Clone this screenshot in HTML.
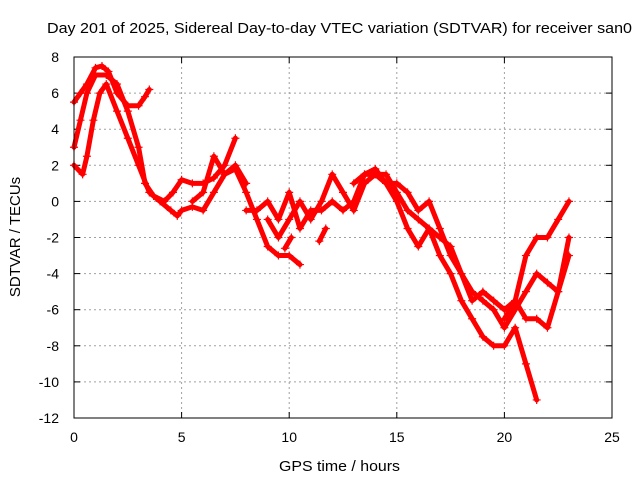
<!DOCTYPE html>
<html><head><meta charset="utf-8"><style>
body{margin:0;background:#fff}
svg{display:block;font-family:"Liberation Sans",sans-serif;font-size:14px}
</style></head><body>
<svg id="c" width="640" height="480">
<text x="47" y="33" textLength="585" lengthAdjust="spacingAndGlyphs" style="font-size:15px">Day 201 of 2025, Sidereal Day-to-day VTEC variation (SDTVAR) for receiver san0</text>
<text x="279" y="471" textLength="121" lengthAdjust="spacingAndGlyphs" style="font-size:15px">GPS time / hours</text>
<text transform="translate(20,237) rotate(-90)" text-anchor="middle" style="font-size:15px">SDTVAR / TECUs</text>
<g id="grid"></g><g id="marks"></g>
<rect x="74" y="57" width="538" height="361" fill="none" stroke="#000"/>
</svg>
<script>
const xTicks=[0,5,10,15,20,25];
const yTicks=[8,6,4,2,0,-2,-4,-6,-8,-10,-12];
const track1=[[0,5.5],[0.3,6],[0.6,6.5],[1,7.4],[1.3,7.5],[1.6,7.2],[2,6],[2.5,5.3],[3,5.3],[3.3,5.8],[3.5,6.2]];
const track2=[[0,2],[0.4,1.5],[0.6,2.5],[0.9,4.5],[1.2,6],[1.5,6.5],[2,5],[2.5,3.5],[3,2],[3.5,0.5],[4,0],[4.5,-0.5],[4.8,-0.8],[5,-0.5],[5.5,-0.3],[6,-0.5],[6.5,0.5],[7,1.5],[7.5,2],[8,1]];
const track3=[[0,3],[0.3,4.5],[0.6,6],[1,7],[1.5,7],[2,6.5],[2.5,5],[3,3],[3.3,1],[3.7,0.3],[4.2,0],[4.6,0.5],[5,1.2],[5.5,1],[6,1],[6.5,1.3],[7,2],[7.5,3.5]];
const track4=[[5.5,0],[6,0.5],[6.5,2.5],[7,1.5],[7.5,1.8],[8,0.5],[8.5,-1],[9,-2.5],[9.5,-3],[10,-3],[10.5,-3.5]];
const track5=[[8,-0.5],[8.5,-0.5],[9,0],[9.5,-1],[10,0.5],[10.5,-1.5],[11,-0.5],[11.5,-0.5],[12,0],[12.5,-0.5],[13,0],[13.5,1.5],[14,1.5],[14.5,1],[15,0],[15.5,-1.5],[16,-2.5],[16.5,-1.5],[17,-2],[17.5,-2.5],[18,-4],[18.5,-5.5],[19,-5],[19.5,-5.5],[20,-6],[20.5,-5.5],[21,-6.5],[21.5,-6.5],[22,-7],[22.5,-5],[23,-2]];
const track6=[[9,-1],[9.5,-2],[10,-1],[10.5,0],[11,-1],[11.5,0],[12,1.5],[12.5,0.5],[13,-0.5],[13.5,1],[14,1.5],[14.5,1.5],[15,0.5],[15.5,-0.5],[16,-1],[16.5,-1.5],[17,-3],[17.5,-4],[18,-5.5],[18.5,-6.5],[19,-7.5],[19.5,-8],[20,-8],[20.5,-7],[21,-9],[21.5,-11]];
const track7=[[13,1],[13.5,1.5],[14,1.8],[14.5,1],[15,1],[15.5,0.5],[16,-0.5],[16.5,0],[17,-1.5],[17.5,-3],[18,-4],[18.5,-5],[19,-5.5],[19.5,-6],[20,-7],[20.5,-6],[21,-5],[21.5,-4],[22,-4.5],[22.5,-5],[23,-3]];
const track8=[[20,-6.5],[20.5,-5.5],[21,-3],[21.5,-2],[22,-2],[22.5,-1],[23,0]];
const track9=[[11.4,-2.2],[11.7,-1.5]];
const track10=[[9.8,-2.6],[10.1,-2]];
const tracks=[track1,track2,track3,track4,track5,track6,track7,track8,track9,track10];
const X=v=>74+v*(538/25), Y=v=>57+(8-v)*(361/20);
const NS='http://www.w3.org/2000/svg';
const grid=document.getElementById('grid'), marks=document.getElementById('marks');
function mk(tag,at,parent){const e=document.createElementNS(NS,tag);for(const k in at)e.setAttribute(k,at[k]);parent.appendChild(e);return e;}
xTicks.forEach(t=>{
 const x=X(t);
 if(t>0&&t<25){const l=mk('line',{x1:x,x2:x,y1:57,y2:418,stroke:'#a0a0a0','stroke-dasharray':'2,3'},grid);
 
 }
 mk('line',{x1:x,x2:x,y1:418,y2:412,stroke:'#000'},grid);
 mk('line',{x1:x,x2:x,y1:57,y2:63,stroke:'#000'},grid);
 const tx=mk('text',{x:x,y:442,'text-anchor':'middle'},grid);tx.textContent=t;
 
 
});
yTicks.forEach(t=>{
 const y=Y(t);
 if(t<8&&t>-12){const l=mk('line',{x1:74,x2:612,y1:y,y2:y,stroke:'#a0a0a0','stroke-dasharray':'2,3'},grid);
 
 }
 mk('line',{x1:74,x2:80,y1:y,y2:y,stroke:'#000'},grid);
 mk('line',{x1:612,x2:606,y1:y,y2:y,stroke:'#000'},grid);
 const tx=mk('text',{x:59,y:y+5,'text-anchor':'end'},grid);tx.textContent=t;
 
 
});
tracks.forEach((tr,i)=>{
 const p=mk('polyline',{points:tr.map(d=>X(d[0])+','+Y(d[1])).join(' '),fill:'none',stroke:'#ff0000','stroke-width':5,'stroke-linejoin':'round','stroke-linecap':'round'},marks);
 
 
 tr.forEach(d=>{
  const x=X(d[0]),y=Y(d[1]);
  const m=mk('path',{d:`M${x-4},${y}H${x+4}M${x},${y-4}V${y+4}`,stroke:'#ff0000','stroke-width':1.2},marks);
  
  
 });
});
</script>
</body></html>
